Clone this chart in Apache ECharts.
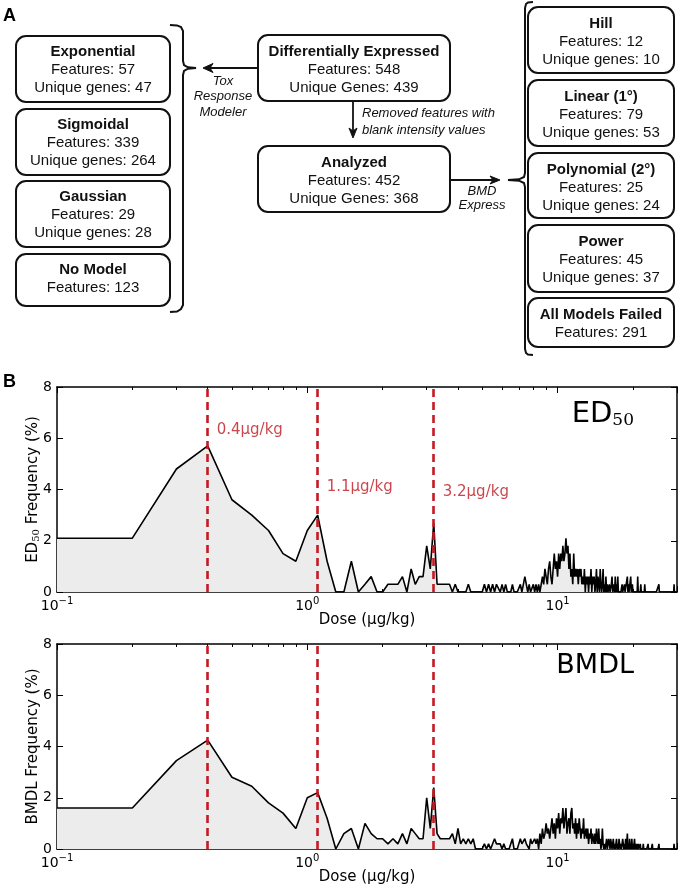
<!DOCTYPE html>
<html><head><meta charset="utf-8">
<script src="https://cdn.jsdelivr.net/npm/echarts@6/dist/echarts.min.js"></script>
<style>html,body{margin:0;padding:0;background:#fff}#c{width:685px;height:892px}</style>
</head><body><div id="c"></div>
<script>
// ---------------- DATA ----------------
// histogram bins: dose 0.1 .. 30.0 (step 0.1), frequency in %
const binStart = 0.1;
const binStep = 0.1;
const ed50Freq = [
  2.1,2.1,4.8,5.7,3.6,3.0,2.4,1.5,1.2,2.4,
  3.0,1.2,0,0,1.2,0,0.3,0.6,0,0,
  0.3,0.3,0.3,0.6,0,0.9,0.3,0.6,0.6,1.8,
  0.9,2.7,0.3,0.3,0.3,0.3,0.3,0,0.3,0,
  0,0,0,0.3,0,0,0,0,0,0,
  0.3,0,0.3,0,0.3,0,0.3,0.3,0,0.3,
  0,0.3,0,0,0,0.3,0,0,0,0,
  0.3,0,0.3,0.6,0.3,0,0.3,0,0,0.3,
  0,0.3,0,0.3,0,0.3,0.6,0.3,0.9,0.6,
  0.3,0.9,1.2,0.6,0.3,0.9,1.5,0.9,1.2,0.6,
  1.5,0.9,1.5,1.2,1.8,1.2,1.5,2.1,1.5,1.8,
  0.9,1.5,0.6,0.9,0.3,1.5,0.6,0.9,0.6,0.9,
  0.3,0.9,0.6,0.9,0.3,0.6,0.3,0.9,0,0.6,
  0.3,0.6,0,0.6,0.3,0.9,0,0.6,0.3,0.6,
  0,0.3,0.9,0,0.6,0.3,0,0.9,0.3,0,
  0.3,0.9,0,0.3,0,0.6,0,0.3,0,0,
  0.3,0,0,0.3,0.6,0,0,0.3,0,0.6,
  0,0.3,0,0.6,0,0,0,0,0,0,
  0.3,0,0,0,0.3,0,0,0,0,0.6,
  0,0.3,0,0,0,0.6,0,0,0.3,0,
  0,0,0,0,0,0,0,0,0.6,0,
  0,0,0,0,0.3,0,0,0,0,0,
  0,0,0.3,0,0,0,0,0,0,0,
  0,0,0,0,0,0,0,0,0,0,
  0,0,0,0,0,0,0,0,0,0,
  0,0,0,0.3,0,0,0,0,0,0,
  0,0,0,0,0,0,0,0,0,0,
  0,0,0,0,0,0,0,0,0,0,
  0,0,0,0,0,0,0,0,0,0,
  0,0.3,0,0,0,0,0,0,0,0
];
const bmdlFreq = [
  1.6,1.6,3.45,4.25,2.8,2.45,1.8,1.4,0.8,2.0,
  2.2,1.2,0,0.6,0.8,0,1.0,0.6,0.4,0.4,
  0.2,0.4,0.2,0.6,0.2,0.8,0.6,0.4,0.4,2.0,
  0.8,2.4,0.6,0.4,0.4,0.4,0.4,0.6,0.2,0.8,
  0.2,0.4,0.2,0.4,0.2,0.4,0,0,0,0,
  0.2,0,0.2,0,0,0.4,0.2,0.2,0.2,0,
  0.2,0,0,0,0,0.4,0,0,0,0.2,
  0.4,0.2,0.2,0.4,0.2,0.2,0,0.4,0.2,0.2,
  0.4,0.2,0.4,0,0.6,0.2,0.8,0.4,0.6,1.0,
  0.6,0.8,0.4,0.8,1.2,0.6,1.0,0.4,1.2,0.8,
  1.4,0.6,1.2,1.0,1.6,0.8,1.2,1.6,0.6,1.0,
  1.2,0.6,1.4,1.6,0.8,1.0,0.6,1.2,0.4,1.0,
  0.6,1.2,0.8,0.4,0.8,0.6,1.2,0.4,0.6,0.8,
  0.4,0.8,0.2,0.6,0.4,0.8,0.2,0.6,0.4,0.2,
  0.6,0.2,0.8,0.4,0.2,0.8,0.2,0.4,0,0.2,
  0.8,0.2,0,0.2,0,0.2,0.4,0,0.2,0.4,
  0.2,0,0.4,0.2,0,0.2,0.4,0,0.2,0,
  0.2,0.4,0,0.2,0,0.4,0.2,0,0.2,0,
  0,0.4,0.2,0,0.2,0,0.4,0,0.2,0.6,
  0,0.2,0,0.4,0,0.2,0,0.4,0,0.2,
  0,0,0.4,0,0.2,0,0,0.2,0,0.2,
  0,0,0,0.2,0,0,0,0,0,0.2,
  0,0,0,0,0,0,0,0,0,0.2,
  0,0,0,0,0,0,0,0,0.2,0,
  0,0,0,0,0,0,0,0,0,0,
  0,0,0,0.2,0,0,0,0,0,0,
  0,0,0,0,0,0,0,0,0,0,
  0,0,0,0,0,0,0,0,0,0,
  0,0,0,0,0,0,0,0,0,0,
  0,0.2,0,0,0,0,0,0,0,0
];
const doseMin = 0.1;
const doseMax = 30;
const freqMax = 8;
const freqInterval = 2;
const markerDoses = [0.4, 1.1, 3.2];
const markerLabels = ['0.4μg/kg', '1.1μg/kg', '3.2μg/kg'];
const markerLabelFreq = [6.3, 4.1, 3.9];
const xAxisTitle = 'Dose (μg/kg)';
const edAxisTitle = 'ED{sub|50} Frequency (%)';
const bmdlAxisTitle = 'BMDL Frequency (%)';

// flow chart texts
const sourceBox = {title: 'Differentially Expressed', lines: ['Features: 548', 'Unique Genes: 439']};
const analyzedBox = {title: 'Analyzed', lines: ['Features: 452', 'Unique Genes: 368']};
const toxBoxes = [
  {title: 'Exponential', lines: ['Features: 57', 'Unique genes: 47']},
  {title: 'Sigmoidal', lines: ['Features: 339', 'Unique genes: 264']},
  {title: 'Gaussian', lines: ['Features: 29', 'Unique genes: 28']},
  {title: 'No Model', lines: ['Features: 123']}
];
const bmdBoxes = [
  {title: 'Hill', lines: ['Features: 12', 'Unique genes: 10']},
  {title: 'Linear (1°)', lines: ['Features: 79', 'Unique genes: 53']},
  {title: 'Polynomial (2°)', lines: ['Features: 25', 'Unique genes: 24']},
  {title: 'Power', lines: ['Features: 45', 'Unique genes: 37']},
  {title: 'All Models Failed', lines: ['Features: 291']}
];
const toxLabel = ['Tox', 'Response', 'Modeler'];
const removedLabel = ['Removed features with', 'blank intensity values'];
const bmdLabel = ['BMD', 'Express'];

// ---------------- BUILD ----------------
const toPairs = arr => arr.map((v, i) => [+(binStart + i * binStep).toFixed(1), v]);
const edData = toPairs(ed50Freq);
const bmdlData = toPairs(bmdlFreq);

const RED = '#c41a22';
const RED_TEXT = '#bd1720';
const SANS = '"Liberation Sans", Arial, sans-serif';
const DV = '"DejaVu Sans", sans-serif';

function logFmt(v) {
  const l = Math.log10(v), e = Math.round(l);
  if (Math.abs(l - e) > 1e-6) return '';
  return '{b|10}{sup|' + (e < 0 ? '\u2212' + (-e) : e) + '}';
}

function xAxes(gi) {
  const common = {
    type: 'log', logBase: 10, min: doseMin, max: doseMax, gridIndex: gi,
    axisLine: {show: true, onZero: false, lineStyle: {color: '#000', width: 1.5}},
    axisTick: {show: true, inside: true, length: 6, lineStyle: {color: '#000', width: 1}},
    minorTick: {show: true, splitNumber: 9, length: 3, lineStyle: {color: '#000', width: 1}},
    splitLine: {show: false}, minorSplitLine: {show: false}
  };
  return [
    Object.assign({}, common, {
      position: 'bottom',
      name: xAxisTitle, nameLocation: 'middle', nameGap: 21, nameMoveOverlap: false,
      nameTextStyle: {fontSize: 15, fontFamily: DV, color: '#000'},
      axisLabel: {
        formatter: logFmt, margin: 4, color: '#000', fontFamily: DV, showMaxLabel: false,
        rich: {
          b: {fontSize: 14, fontFamily: DV, color: '#000', verticalAlign: 'bottom'},
          sup: {fontSize: 10, fontFamily: DV, color: '#000', verticalAlign: 'bottom', padding: [0, 0, 7, 0]}
        }
      }
    }),
    Object.assign({}, common, {position: 'top', axisLabel: {show: false}})
  ];
}
function yAxes(gi, name) {
  const common = {
    type: 'value', min: 0, max: freqMax, interval: freqInterval, gridIndex: gi,
    axisLine: {show: true, onZero: false, lineStyle: {color: '#000', width: 1.5}},
    axisTick: {show: true, inside: true, length: 6, lineStyle: {color: '#000', width: 1}},
    splitLine: {show: false}
  };
  return [
    Object.assign({}, common, {
      position: 'left',
      name: name, nameLocation: 'middle', nameGap: 16, nameRotate: 90, nameMoveOverlap: false,
      nameTextStyle: {fontSize: 15, fontFamily: DV, color: '#000',
        rich: {sub: {fontSize: 10, fontFamily: '"DejaVu Serif", serif', color: '#000', verticalAlign: 'bottom'}}},
      axisLabel: {margin: 5, fontSize: 14, fontFamily: DV, color: '#000'}
    }),
    Object.assign({}, common, {position: 'right', axisLabel: {show: false}})
  ];
}
function histSeries(data) {
  return {
    type: 'line', data: data,
    symbol: 'none', showSymbol: false, animation: false,
    lineStyle: {color: '#000', width: 1.6},
    areaStyle: {color: '#ececec', opacity: 1},
    markLine: {
      silent: true, symbol: ['none', 'none'], animation: false,
      lineStyle: {color: RED, type: [8, 5], width: 2.6},
      label: {show: false},
      data: markerDoses.map(d => ({xAxis: d}))
    }
  };
}

// ---------------- FLOW CHART GRAPHICS ----------------
const g = [];
const STROKE = '#111';
function box(x, y, w, h, item, firstDy, step) {
  g.push({type: 'rect', shape: {x: x, y: y, width: w, height: h, r: 10},
    style: {fill: '#fff', stroke: STROKE, lineWidth: 2}});
  const cx = x + w / 2;
  g.push({type: 'text', x: cx, y: y + firstDy, style: {text: item.title, align: 'center', verticalAlign: 'middle',
    font: 'bold 15px ' + SANS, fill: '#111'}});
  item.lines.forEach((t, i) => g.push({type: 'text', x: cx, y: y + firstDy + step * (i + 1),
    style: {text: t, align: 'center', verticalAlign: 'middle', font: '15px ' + SANS, fill: '#111'}}));
}
function italic(lines, x, y, step, align) {
  lines.forEach((t, i) => g.push({type: 'text', x: x, y: y + step * i,
    style: {text: t, align: align, verticalAlign: 'middle', font: 'italic 13px ' + SANS, fill: '#111'}}));
}
function line(pts, w) {
  g.push({type: 'polyline', shape: {points: pts}, style: {stroke: STROKE, lineWidth: w || 2, fill: null}});
}
function head(pts) {
  g.push({type: 'polygon', shape: {points: pts}, style: {fill: STROKE, stroke: STROKE, lineWidth: 1}});
}
// left column
const toxTops = [36, 109, 181, 254], toxH = [66, 66, 66, 52];
toxBoxes.forEach((b, i) => box(16, toxTops[i], 154, toxH[i], b, 16, 18));
// middle
box(258, 35, 192, 66, sourceBox, 17, 18);
box(258, 146, 192, 66, analyzedBox, 17, 18);
// right column
const bmdTops = [7, 80, 153, 225, 298], bmdH = [66, 66, 65, 67, 49];
bmdBoxes.forEach((b, i) => box(528, bmdTops[i], 146, bmdH[i], b, 17, 18));
// left brace }
line([[170,25],[177,25.4],[181,27],[183,31],[183,61],[184,65],[188,67.3],[196,68],[188,68.7],[184,71],[183,75],[183,305],[181,309],[177,311.5],[170,312]]);
// right brace {
line([[533,2],[528,2.4],[526,4],[525,8],[525,173],[524,177],[519,179.3],[508,180],[519,180.7],[524,183],[525,187],[525,349],[526,353],[528,354.6],[533,355]]);
// arrows
line([[258,68],[208,68]], 2);
head([[203,68],[213,63.5],[210,68],[213,72.5]]);
line([[353,101],[353,132]], 1.8);
head([[353,138],[349,128],[353,131],[357,128]]);
line([[450,180],[494,180]], 1.8);
head([[500,180],[490,176],[493,180],[490,184]]);
italic(toxLabel, 223, 81, 15.5, 'center');
italic(removedLabel, 362, 113, 17, 'left');
italic(bmdLabel, 482, 191, 14, 'center');
// panel letters
g.push({type: 'text', x: 3, y: 16, style: {text: 'A', verticalAlign: 'middle', font: 'bold 18px ' + SANS, fill: '#000'}});
g.push({type: 'text', x: 3, y: 382, style: {text: 'B', verticalAlign: 'middle', font: 'bold 18px ' + SANS, fill: '#000'}});
// chart corner titles
g.push({type: 'text', x: 634, y: 429, style: {text: '{m|ED}{s|50}', align: 'right', verticalAlign: 'bottom',
  rich: {m: {fontSize: 29, fontFamily: DV, fill: '#000', verticalAlign: 'bottom'},
         s: {fontSize: 17, fontFamily: '"DejaVu Serif", serif', fill: '#000', verticalAlign: 'bottom'}}}});
g.push({type: 'text', x: 634, y: 679, style: {text: 'BMDL', align: 'right', verticalAlign: 'bottom',
  font: '27px ' + DV, fill: '#000'}});

// ---------------- CHART ----------------
const chart = echarts.init(document.getElementById('c'), null, {renderer: 'canvas'});
const xa = xAxes(0).concat(xAxes(1));
const ya = yAxes(0, edAxisTitle).concat(yAxes(1, bmdlAxisTitle));
// axis indices: grid0 -> x0(bottom),x1(top); grid1 -> x2,x3
chart.setOption({
  animation: false,
  backgroundColor: '#fff',
  grid: [
    {left: 57, top: 387, width: 620, height: 205},
    {left: 57, top: 644, width: 620, height: 205}
  ],
  xAxis: xa,
  yAxis: ya,
  series: [
    Object.assign(histSeries(edData), {xAxisIndex: 0, yAxisIndex: 0}),
    Object.assign(histSeries(bmdlData), {xAxisIndex: 2, yAxisIndex: 2}),
    {
      type: 'scatter', xAxisIndex: 0, yAxisIndex: 0, symbolSize: 0, silent: true,
      data: markerDoses.map((d, i) => [d, markerLabelFreq[i]]),
      label: {show: true, position: 'right', distance: 9, color: RED_TEXT, fontSize: 15, fontFamily: DV,
        formatter: p => markerLabels[p.dataIndex]}
    }
  ],
  graphic: g
});
</script>
</body></html>
